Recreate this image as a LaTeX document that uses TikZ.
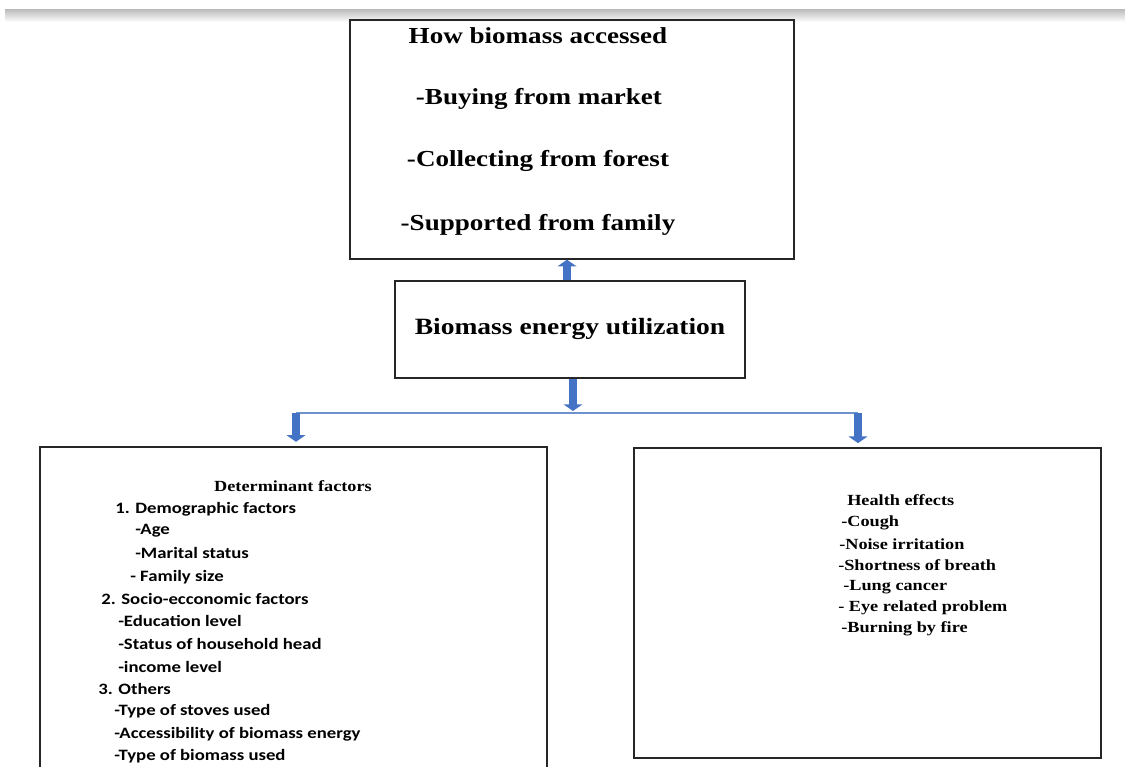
\documentclass[tikz,border=0pt]{standalone}
\usepackage{fontspec}
\setmainfont{Liberation Serif}[FakeStretch=1.18]
\newfontfamily\calibri{Carlito}[FakeStretch=1.18]
\usetikzlibrary{arrows.meta, shadings}
\definecolor{arrblue}{RGB}{68,114,196}
\definecolor{busblue}{RGB}{110,146,205}

\begin{document}
\begin{tikzpicture}[
    x=0.75pt, y=-0.75pt,
    box/.style={draw=black!85, line width=1.3pt, inner sep=0pt},
    big/.style={font=\bfseries\fontsize{17.2}{20}\selectfont, inner sep=0pt},
    mid/.style={font=\bfseries\fontsize{17.5}{20}\selectfont, inner sep=0pt},
    head/.style={font=\bfseries\fontsize{11.6}{13}\selectfont, inner sep=0pt},
    item/.style={anchor=west, inner sep=0pt,
                 font=\calibri\bfseries\fontsize{11.9}{13}\selectfont},
    fx/.style={anchor=west, inner sep=0pt,
               font=\bfseries\fontsize{11.6}{13}\selectfont},
    fat/.style={-{Triangle[width=14pt,length=5pt]}, line width=6pt, draw=arrblue},
    bus/.style={line width=1.6pt, draw=busblue},
]
\clip (0,0) rectangle (1125,767);

% ============================ page shadow ===============================
\shade[top color=black!25, bottom color=white] (5,10) rectangle (1125,22);

% ============================ access box ================================
\node[box, minimum width=333pt, minimum height=179pt] (access) at (572,139.5) {};
\node[big] (acc0) at (538,36)  {How biomass accessed};
\node[big] (acc1) at (539,99)  {-Buying from market};
\node[big] (acc2) at (538,161) {-Collecting from forest};
\node[big] (acc3) at (538,225) {-Supported from family};

% ============================ utilization box ===========================
\node[box, minimum width=262.5pt, minimum height=72.75pt] (util) at (570,329.5) {};
\node[mid] (utiltxt) at (570,329) {Biomass energy utilization};

% ============================ determinant factors =======================
\node[box, minimum width=380pt, minimum height=260pt] (det) at (293.5,620) {};
\node[head] (dethd) at (293,486) {Determinant factors};
\node[item] (d1)  at (115,509) {1. Demographic factors};
\node[item] (d1a) at (135,531) {-Age};
\node[item] (d1b) at (135,553) {-Marital status};
\node[item] (d1c) at (130,577) {- Family size};
\node[item] (d2)  at (101,599) {2. Socio-ecconomic factors};
\node[item] (d2a) at (118,621) {-Education level};
\node[item] (d2b) at (118,644) {-Status of household head};
\node[item] (d2c) at (118,667) {-income level};
\node[item] (d3)  at (98,689)  {3. Others};
\node[item] (d3a) at (114,711) {-Type of stoves used};
\node[item] (d3b) at (114,734) {-Accessibility of biomass energy};
\node[item] (d3c) at (114,756) {-Type of biomass used};

% ============================ health effects ============================
\node[box, minimum width=350pt, minimum height=232.5pt] (health) at (867.5,603) {};
\node[fx] (h0) at (847,500) {Health effects};
\node[fx] (h1) at (841,523) {-Cough};
\node[fx] (h2) at (839,544) {-Noise irritation};
\node[fx] (h3) at (838,565) {-Shortness of breath};
\node[fx] (h4) at (843,587) {-Lung cancer};
\node[fx] (h5) at (838,608) {- Eye related problem};
\node[fx] (h6) at (841,629) {-Burning by fire};

% ============================ connectors ================================
\coordinate (busL) at (296,413);
\coordinate (busM) at (573,413);
\coordinate (busR) at (858,413);
\draw[bus] (busL) -- (busR);
\draw[fat] ([xshift=-2.25pt]util.north) -- ([xshift=-3.75pt]access.south);
\draw[fat] (util.south -| busM) -- ([yshift=1.5pt]busM);
\draw[fat] (busL) -- ([yshift=3pt]busL |- det.north);
\draw[fat] (busR) -- ([yshift=3pt]busR |- health.north);

\end{tikzpicture}
\end{document}
